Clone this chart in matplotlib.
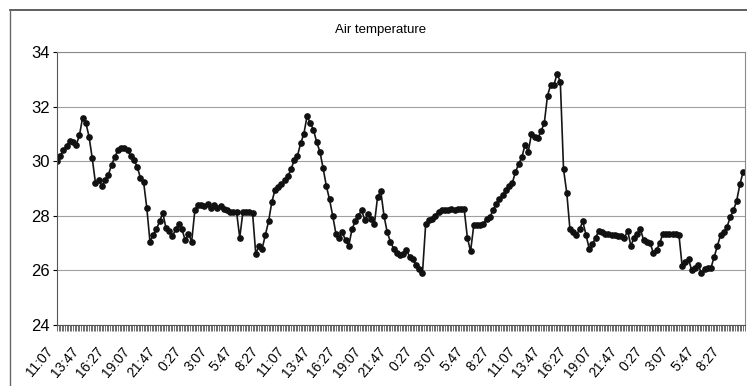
import numpy as np
import matplotlib
matplotlib.use("Agg")
import matplotlib.pyplot as plt
import matplotlib.transforms as mtransforms
from matplotlib.lines import Line2D

plt.rcParams['font.family'] = ['Liberation Sans Narrow', 'Liberation Sans', 'DejaVu Sans']

# air temperature readings, one every 20 minutes starting at 11:07
step_min = 20
temperature = [
    30.0, 30.2, 30.4, 30.55, 30.75, 30.7, 30.6, 30.95,
    31.6, 31.4, 30.9, 30.1, 29.2, 29.3, 29.1, 29.3,
    29.5, 29.85, 30.15, 30.4, 30.5, 30.5, 30.4, 30.2,
    30.05, 29.8, 29.4, 29.25, 28.3, 27.05, 27.3, 27.5,
    27.8, 28.1, 27.55, 27.45, 27.25, 27.5, 27.7, 27.5,
    27.1, 27.35, 27.05, 28.2, 28.4, 28.4, 28.35, 28.45,
    28.3, 28.4, 28.3, 28.35, 28.25, 28.2, 28.15, 28.15,
    28.15, 27.2, 28.15, 28.15, 28.15, 28.1, 26.6, 26.9,
    26.8, 27.3, 27.8, 28.5, 28.95, 29.05, 29.15, 29.3,
    29.45, 29.7, 30.05, 30.2, 30.65, 31.0, 31.65, 31.4,
    31.15, 30.7, 30.35, 29.75, 29.1, 28.6, 28.0, 27.35,
    27.2, 27.4, 27.1, 26.9, 27.5, 27.8, 28.0, 28.2,
    27.85, 28.05, 27.9, 27.7, 28.7, 28.9, 28.0, 27.4,
    27.05, 26.8, 26.65, 26.55, 26.6, 26.75, 26.5, 26.4,
    26.2, 26.05, 25.9, 27.7, 27.85, 27.9, 28.0, 28.15,
    28.2, 28.2, 28.2, 28.25, 28.2, 28.25, 28.25, 28.25,
    27.2, 26.7, 27.65, 27.65, 27.65, 27.7, 27.9, 27.95,
    28.2, 28.45, 28.6, 28.75, 28.95, 29.1, 29.2, 29.6,
    29.9, 30.15, 30.6, 30.35, 31.0, 30.9, 30.85, 31.1,
    31.4, 32.4, 32.8, 32.8, 33.2, 32.9, 29.7, 28.85,
    27.5, 27.4, 27.3, 27.5, 27.8, 27.3, 26.8, 26.95,
    27.2, 27.45, 27.4, 27.35, 27.35, 27.3, 27.3, 27.25,
    27.25, 27.2, 27.45, 26.9, 27.2, 27.35, 27.5, 27.1,
    27.05, 27.0, 26.65, 26.75, 27.0, 27.35, 27.35, 27.35,
    27.35, 27.35, 27.3, 26.15, 26.3, 26.4, 26.0, 26.1,
    26.2, 25.9, 26.05, 26.1, 26.1, 26.5, 26.9, 27.3,
    27.4, 27.6, 27.95, 28.2, 28.55, 29.15, 29.6,
]

tick_labels = [
    "11:07", "13:47", "16:27", "19:07", "21:47", "0:27", "3:07", "5:47", "8:27",
    "11:07", "13:47", "16:27", "19:07", "21:47", "0:27", "3:07", "5:47", "8:27",
    "11:07", "13:47", "16:27", "19:07", "21:47", "0:27", "3:07", "5:47", "8:27",
]
label_every_min = 160

minutes = np.arange(len(temperature)) * step_min

fig = plt.figure(figsize=(7.47, 3.86), dpi=100)
ax = fig.add_axes([57 / 747, 1 - 325 / 386, 688 / 747, 273 / 386])

ax.plot(minutes, temperature, color="#161616", lw=1.2, marker="o",
        markersize=3.8, markerfacecolor="#111111", markeredgecolor="#111111")

ax.set_xlim(0, 4292)
ax.set_ylim(24, 34)
ax.set_yticks([24, 26, 28, 30, 32, 34])
ax.grid(axis="y", color="#a0a0a0", lw=0.8)
ax.set_axisbelow(True)

ax.set_xticks(np.arange(len(tick_labels)) * label_every_min)
ax.set_xticklabels(tick_labels, rotation=50, ha="right", rotation_mode="anchor",
                   fontsize=10)
ax.set_xticks(np.arange(0, 4292, 10), minor=True)
ax.tick_params(axis="x", which="both", length=4, width=0.6, color="#555555")
ax.tick_params(axis="y", length=3, width=0.8, labelsize=12, pad=2)

# shift the rotated labels like the spreadsheet places them
shift = mtransforms.ScaledTranslation(-12 / 100, -9 / 100, fig.dpi_scale_trans)
for lab in ax.get_xticklabels():
    lab.set_transform(lab.get_transform() + shift)

for side in ["top", "right"]:
    ax.spines[side].set_color("#8a8a8a")
ax.spines["left"].set_color("#555555")
ax.spines["bottom"].set_color("#555555")

fig.text(0.51, 0.922, "Air temperature", ha="center", va="center", fontsize=9.5)

# chart area border
fig.add_artist(Line2D([10 / 747, 1], [1 - 10 / 386] * 2, color="#444444", lw=1.2))
fig.add_artist(Line2D([10 / 747] * 2, [0, 1 - 10 / 386], color="#666666", lw=1.0))

fig.savefig("out.png", dpi=100)
